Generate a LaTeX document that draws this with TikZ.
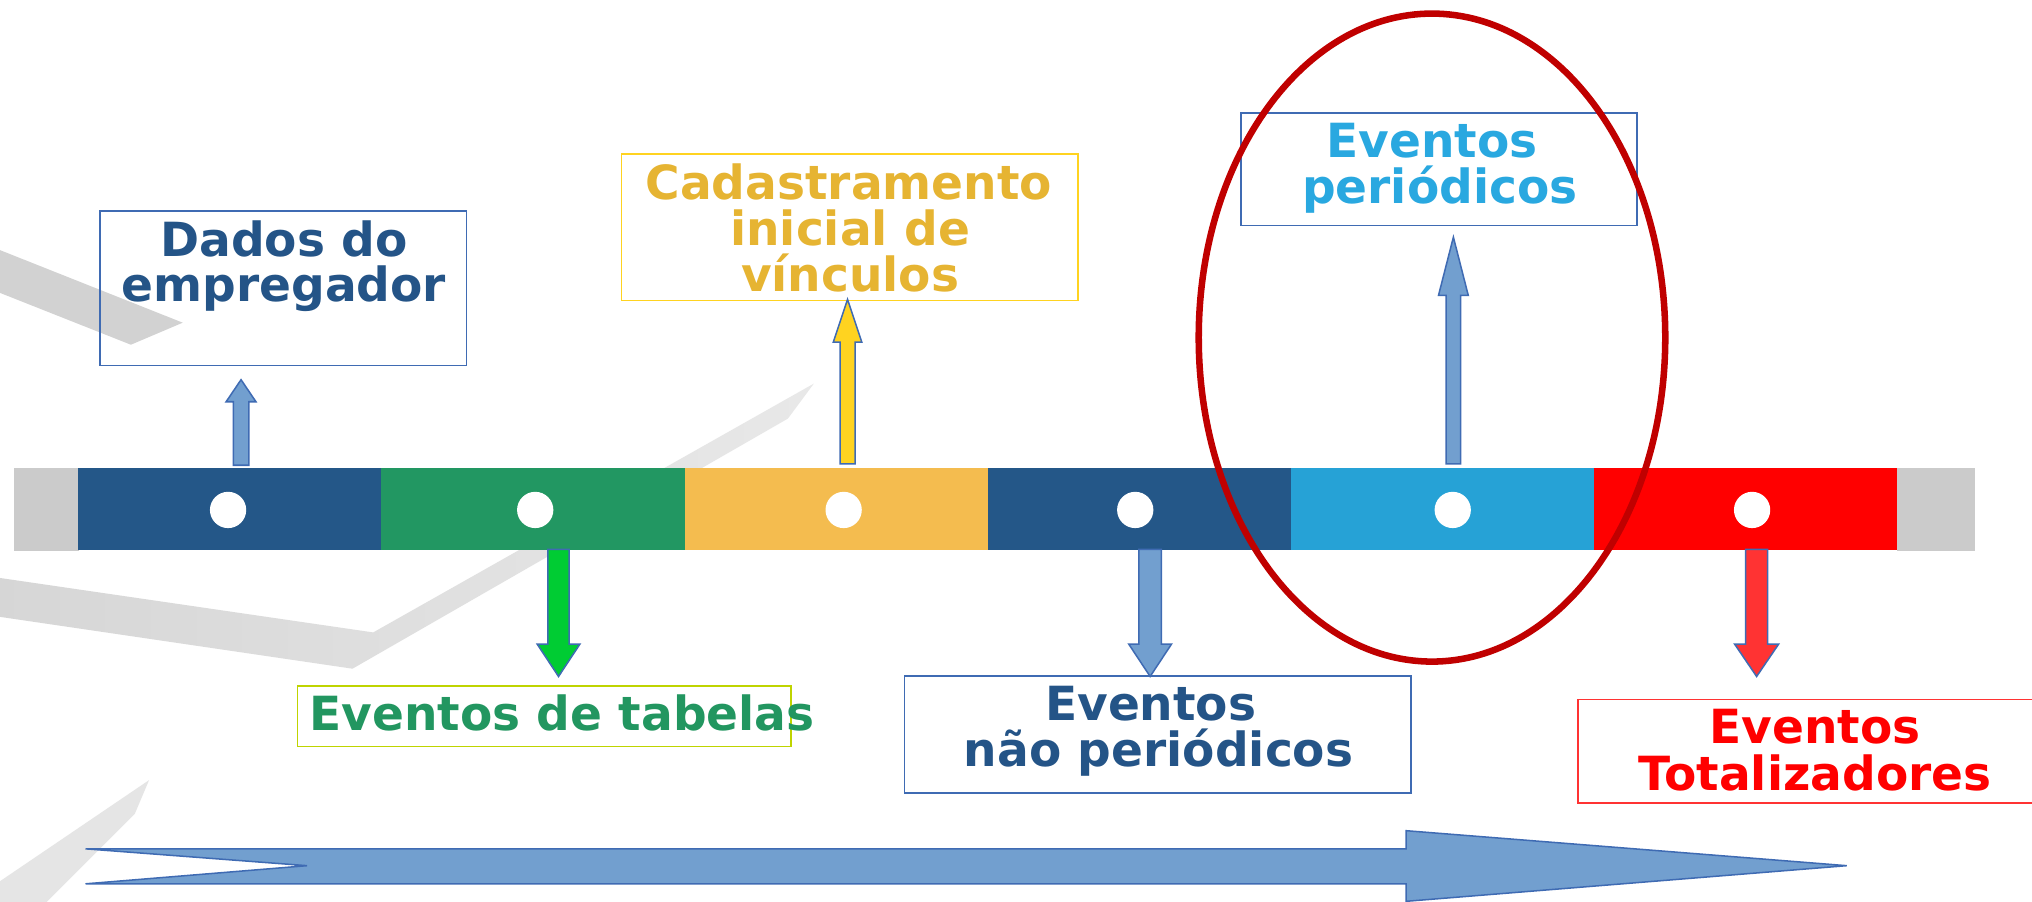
\documentclass[tikz,border=0pt]{standalone}
\usepackage{fontspec}
\setmainfont{DejaVu Sans}
\usetikzlibrary{calc}
\definecolor{outblue}{HTML}{3F6BB3}
\definecolor{fillblue}{HTML}{729FCF}
\definecolor{segdark}{HTML}{245788}
\definecolor{seggreen}{HTML}{229762}
\definecolor{segorange}{HTML}{F4BC4F}
\definecolor{seglight}{HTML}{26A2D6}
\definecolor{segred}{HTML}{FF0000}
\definecolor{seggray}{HTML}{CBCBCB}
\definecolor{txtdark}{HTML}{245487}
\definecolor{txtgold}{HTML}{E6B432}
\definecolor{txtlight}{HTML}{29A8E0}
\definecolor{txtgreen}{HTML}{229660}
\definecolor{txtred}{HTML}{FF0000}
\definecolor{boxyellow}{HTML}{FFD320}
\definecolor{boxlime}{HTML}{BFD400}
\definecolor{boxred}{HTML}{FF3333}
\definecolor{arrowyellow}{HTML}{FFD320}
\definecolor{arrowgreen}{HTML}{00CC33}
\definecolor{arrowred}{HTML}{FF3333}
\definecolor{ringred}{HTML}{C00000}
\newcommand\vblock[6]{%
  \draw[blockarrow, fill=#1] ($(#2)+(-#4,0)$) -- ($(#3)+(-#4,#6)$) -- ($(#3)+(-#5,#6)$) -- (#3)
    -- ($(#3)+(#5,#6)$) -- ($(#3)+(#4,#6)$) -- ($(#2)+(#4,0)$) -- cycle;}
\begin{document}
\begin{tikzpicture}[x=0.03cm,y=-0.03cm,
  box/.style={draw=#1, line width=1.1pt, rectangle, inner sep=0pt},
  lbl/.style={anchor=base, inner sep=0pt, font=\fontsize{31pt}{30pt}\selectfont\bfseries},
  blockarrow/.style={draw=outblue, line width=1pt, line join=miter},
  seg/.style={inner sep=0pt, minimum width=7.02cm, minimum height=1.89cm, anchor=west},
  dot/.style={fill=white}]
\clip (0,0) rectangle (1568,696);
\fill[white] (0,0) rectangle (1568,696);
% background decorative bands
\fill[gray!35] (0,193) -- (141,249) -- (101,266) -- (0,226) -- cycle;
\shade[left color=gray!32, right color=gray!18] (0,446) -- (288,488) -- (628,296) -- (608,323) -- (272,516) -- (0,476) -- cycle;
\fill[gray!20] (115,602) -- (104,628) -- (36,696) -- (0,696) -- (0,680) -- cycle;
% timeline bar
\fill[seggray] (11,361) rectangle (61,425);
\node[seg, fill=segdark]   (s1) at (60,393) {};
\node[seg, fill=seggreen]  (s2) at (294,393) {};
\node[seg, fill=segorange] (s3) at (528,393) {};
\node[seg, fill=segdark]   (s4) at (762,393) {};
\node[seg, fill=seglight]  (s5) at (996,393) {};
\node[seg, fill=segred]    (s6) at (1230,393) {};
\fill[seggray] (1464,361) rectangle (1524,425);
\foreach \cx in {176,413,651,876,1121,1352}
  \fill[dot] (\cx,393.5) circle[radius=0.42cm];
% boxes
\node[box=outblue,   minimum width=8.49cm,  minimum height=3.57cm] (b1) at (218.5,222.5) {};
\node[box=boxyellow, minimum width=10.56cm, minimum height=3.39cm] (b2) at (655.6,175.5) {};
\node[box=outblue,   minimum width=9.16cm,  minimum height=2.61cm] (b3) at (1110.4,130.5) {};
\node[box=boxlime,   minimum width=11.43cm, minimum height=1.40cm] (b4) at (420,552.8) {};
\node[box=outblue,   minimum width=11.72cm, minimum height=2.70cm] (b5) at (893.2,566.7) {};
\node[box=boxred,    minimum width=10.96cm, minimum height=2.39cm] (b6) at (1400.4,579.6) {};
% texts
\node[lbl, text=txtdark] (t1a) at (219,198) {Dados do};
\node[lbl, text=txtdark] (t1b) at (219,232.8) {empregador};
\node[lbl, text=txtgold] (t2a) at (655,154.3) {Cadastramento};
\node[lbl, text=txtgold] (t2b) at (656,189.8) {inicial de};
\node[lbl, text=txtgold] (t2c) at (656,225) {vínculos};
\node[lbl, text=txtlight] (t3a) at (1105,121.4) {Eventos};
\node[lbl, text=txtlight] (t3b) at (1111,156.9) {periódicos};
\node[lbl, text=txtgreen] (t4a) at (433.7,563.8) {Eventos de tabelas};
\node[lbl, text=txtdark] (t5a) at (888,555.6) {Eventos};
\node[lbl, text=txtdark] (t5b) at (894,591.1) {não periódicos};
\node[lbl, text=txtred] (t6a) at (1400.5,574) {Eventos};
\node[lbl, text=txtred] (t6b) at (1400.5,609.6) {Totalizadores};
% arrow anchor coordinates
\coordinate (a1s) at (186,359);   \coordinate (a1t) at (186,293);
\coordinate (a2s) at (654,358);   \coordinate (a2t) at (654,231);
\coordinate (a3s) at (1121.5,358);\coordinate (a3t) at (1121.5,183);
\coordinate (a4s) at (431,424);   \coordinate (a4t) at (431,522);
\coordinate (a5s) at (887.5,424); \coordinate (a5t) at (887.5,522);
\coordinate (a6s) at (1355.5,424);\coordinate (a6t) at (1355.5,522);
\vblock{fillblue}{a1s}{a1t}{6}{11.5}{17}
\vblock{arrowyellow}{a2s}{a2t}{5.8}{11}{33}
\vblock{fillblue}{a3s}{a3t}{5.6}{11.5}{45}
\vblock{arrowgreen}{a4s}{a4t}{8.2}{16.5}{-25}
\vblock{fillblue}{a5s}{a5t}{8.7}{16.5}{-25}
\vblock{arrowred}{a6s}{a6t}{8.5}{17}{-25}
% big time arrow
\coordinate (ta) at (66,668);
\coordinate (tb) at (1425,668);
\draw[blockarrow, fill=fillblue] ($(ta)+(0,-13)$) -- (1085,655) -- (1085,641) -- (tb) -- (1085,695.5) -- (1085,682)
  -- ($(ta)+(0,14)$) -- (237,668) -- cycle;
% highlight ring
\draw[ringred, line width=4.3pt] (1105,260.5) ellipse[x radius=5.4cm, y radius=7.5cm];
\end{tikzpicture}
\end{document}
